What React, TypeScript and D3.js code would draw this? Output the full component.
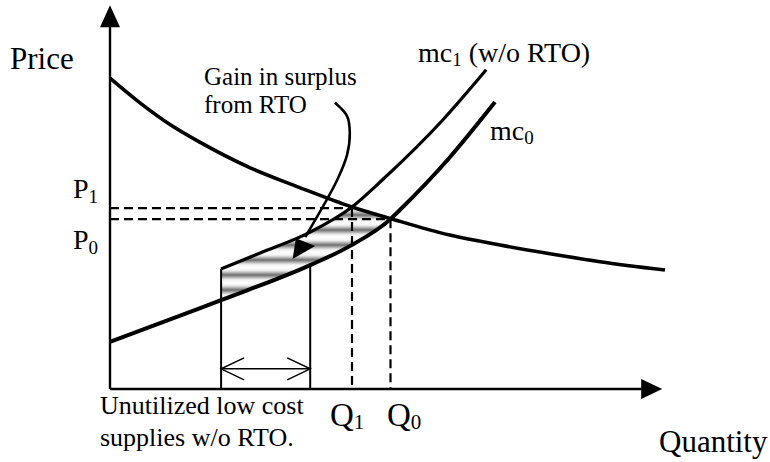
import React from "react";
import * as d3 from "d3";

// ---- Data (Quantity, Price in diagram units 0..100) ----
const demandQ = [0, 5.45, 10.9, 16.4, 25.5, 34.5, 44, 51.1, 61.8, 70.9, 80, 89.1, 100.9];
const demandP = [81.8, 75.3, 69.6, 64.9, 58.2, 53.0, 47.9, 44.8, 40.5, 37.9, 35.6, 33.5, 31.3];

const mc0Q = [0, 16.4, 20.2, 36.4, 43.6, 51, 52.7, 61.8, 70];
const mc0P = [12.4, 21.3, 23.4, 32.6, 37.6, 44.7, 47.1, 61, 75.5];

const mc1Q = [20.2, 27.3, 36.4, 44, 49.5, 60.5, 68.4];
const mc1P = [31.6, 35.8, 41.3, 47.9, 55, 70.8, 84];

const Q1 = 44, P1 = 47.6;
const Q0 = 51, P0 = 44.7;
const lowCostStart = 20.2;
const lowCostEnd = 36.4;
const arrowLevel = 5.3;

// curved annotation arrow (Q, P)
const calloutQ = [40.9, 43.1, 43.6, 43.1, 41.3, 35.5];
const calloutP = [75.3, 71.8, 67.4, 61.6, 55.0, 40.0];
const calloutHeadQ = [33.8, 37.3, 33.2];
const calloutHeadP = [39.7, 37.6, 34.2];

const W = 770, H = 462;
const x = d3.scaleLinear().domain([0, 100]).range([110, 660]);
const y = d3.scaleLinear().domain([0, 100]).range([389, 9]);

const zip = (qs: number[], ps: number[]) => qs.map((q, i) => [q, ps[i]] as [number, number]);

const demand = zip(demandQ, demandP);
const mc0 = zip(mc0Q, mc0P);
const mc1 = zip(mc1Q, mc1P);

const line = d3.line<[number, number]>().x(d => x(d[0])).y(d => y(d[1])).curve(d3.curveMonotoneX);
const below = d3.area<[number, number]>().x(d => x(d[0])).y0(H).y1(d => y(d[1])).curve(d3.curveMonotoneX);
const above = d3.area<[number, number]>().x(d => x(d[0])).y0(0).y1(d => y(d[1])).curve(d3.curveMonotoneX);
const calloutLine = d3.line<[number, number]>().x(d => x(d[0])).y(d => y(d[1])).curve(d3.curveCatmullRom);

const FONT = "Liberation Serif";

export default function App() {
  const x0 = x(0), yBase = y(0);
  const xEnd = x(100.4), yTop = y(101);
  const headQ = zip(calloutHeadQ, calloutHeadP).map(d => `${x(d[0])},${y(d[1])}`).join(" ");
  const ax = x(lowCostStart), bx = x(lowCostEnd), ay = y(arrowLevel);
  return (
    <svg width={W} height={H} style={{ position: "absolute", left: 0, top: 0, background: "#fff" }}>
      <defs>
        <linearGradient id="stripeGrad" x1="0" y1="0" x2="0" y2="1">
          <stop offset="0" stopColor="#ffffff" />
          <stop offset="0.2" stopColor="#f0f0f0" />
          <stop offset="0.5" stopColor="#6e6e6e" />
          <stop offset="0.8" stopColor="#f0f0f0" />
          <stop offset="1" stopColor="#ffffff" />
        </linearGradient>
        <pattern id="stripes" patternUnits="userSpaceOnUse" x="0" y="222.5" width="20" height="15">
          <rect width="20" height="15" fill="url(#stripeGrad)" />
        </pattern>
        <clipPath id="underMc1"><path d={below(mc1) || ""} /></clipPath>
        <clipPath id="underDemand"><path d={below(demand) || ""} /></clipPath>
        <clipPath id="aboveMc0"><path d={above(mc0) || ""} /></clipPath>
      </defs>

      {/* shaded gain region */}
      <g clipPath="url(#aboveMc0)">
        <g clipPath="url(#underDemand)">
          <rect x={x(lowCostStart)} y={0} width={x(Q0) - x(lowCostStart) + 2} height={H}
            fill="url(#stripes)" clipPath="url(#underMc1)" />
        </g>
      </g>

      {/* dashed guides */}
      <g stroke="#000" strokeWidth={2.2} strokeDasharray="9,5" fill="none">
        <line x1={x0} y1={y(P1)} x2={x(Q1)} y2={y(P1)} />
        <line x1={x0} y1={y(P0)} x2={x(Q0)} y2={y(P0)} />
        <line x1={x(Q1)} y1={y(P1)} x2={x(Q1)} y2={yBase} />
        <line x1={x(Q0)} y1={y(P0)} x2={x(Q0)} y2={yBase} />
      </g>

      {/* low-cost bracket lines */}
      <g stroke="#000" strokeWidth={2} fill="none">
        <line x1={ax} y1={yBase} x2={ax} y2={y(mc1P[0])} />
        <line x1={bx} y1={yBase} x2={bx} y2={y(32.6)} />
      </g>
      <g stroke="#000" strokeWidth={1.5} fill="none">
        <line x1={ax} y1={ay} x2={bx} y2={ay} />
        <polyline points={`${ax + 23},${ay - 11} ${ax},${ay} ${ax + 23},${ay + 11}`} />
        <polyline points={`${bx - 23},${ay - 11} ${bx},${ay} ${bx - 23},${ay + 11}`} />
      </g>

      {/* curves */}
      <path d={line(demand) || ""} fill="none" stroke="#000" strokeWidth={3.6} />
      <path d={line(mc0) || ""} fill="none" stroke="#000" strokeWidth={4} />
      <path d={line(mc1) || ""} fill="none" stroke="#000" strokeWidth={3.2} />

      {/* axes */}
      <g stroke="#000" strokeWidth={2.4}>
        <line x1={x0} y1={yBase} x2={x0} y2={yTop + 18} />
        <line x1={x0} y1={yBase} x2={xEnd - 18} y2={yBase} />
      </g>
      <polygon points={`${x0},${yTop} ${x0 - 10},${yTop + 22} ${x0 + 10},${yTop + 22}`} fill="#000" />
      <polygon points={`${xEnd},${yBase} ${xEnd - 21},${yBase - 10} ${xEnd - 21},${yBase + 10}`} fill="#000" />

      {/* callout arrow */}
      <path d={calloutLine(zip(calloutQ, calloutP)) || ""} fill="none" stroke="#000" strokeWidth={2.6} />
      <polygon points={headQ} fill="#000" />

      {/* labels */}
      <g fill="#000" fontFamily={FONT}>
        <text x={10} y={69} fontSize={31} fontFamily={FONT}>Price</text>
        <text x={659} y={452} fontSize={31} fontFamily={FONT}>Quantity</text>
        <text x={73} y={198} fontSize={28} fontFamily={FONT}>P<tspan fontSize={19} dy={5}>1</tspan></text>
        <text x={73} y={249} fontSize={28} fontFamily={FONT}>P<tspan fontSize={19} dy={5}>0</tspan></text>
        <text x={330} y={426} fontSize={33} fontFamily={FONT}>Q<tspan fontSize={21} dy={3}>1</tspan></text>
        <text x={387} y={426} fontSize={33} fontFamily={FONT}>Q<tspan fontSize={21} dy={3}>0</tspan></text>
        <text fontSize={26} fontFamily={FONT}>
          <tspan x={100} y={414}>Unutilized low cost</tspan>
          <tspan x={100} y={446}>supplies w/o RTO.</tspan>
        </text>
        <text fontSize={25} fontFamily={FONT}>
          <tspan x={204} y={85}>Gain in surplus</tspan>
          <tspan x={204} y={113}>from RTO</tspan>
        </text>
        <text x={418} y={62} fontSize={28} fontFamily={FONT}>mc<tspan fontSize={19} dy={4}>1</tspan><tspan dy={-4}> (w/o RTO)</tspan></text>
        <text x={490} y={140} fontSize={28} fontFamily={FONT}>mc<tspan fontSize={19} dy={4}>0</tspan></text>
      </g>
    </svg>
  );
}
